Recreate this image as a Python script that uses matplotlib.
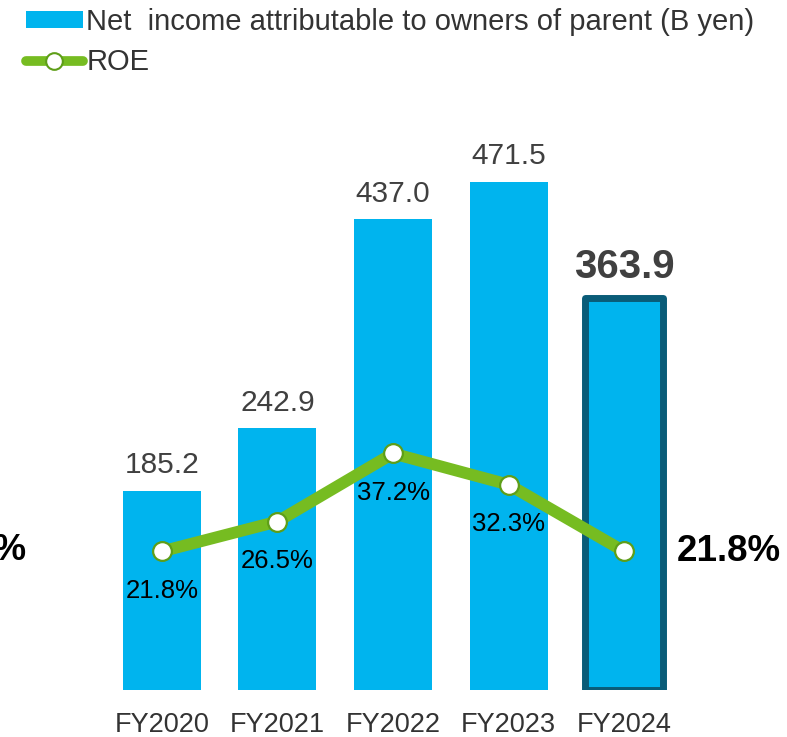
import numpy as np
import matplotlib.pyplot as plt
from matplotlib.patches import Patch
from matplotlib.lines import Line2D

plt.rcParams['font.family'] = ['Liberation Sans', 'DejaVu Sans']

years = ['FY2020', 'FY2021', 'FY2022', 'FY2023', 'FY2024']
net_income = [185.2, 242.9, 437.0, 471.5, 363.9]
roe = [21.8, 26.5, 37.2, 32.3, 21.8]

bar_color = '#00B4EE'
edge_color = '#0A5C78'
line_color = '#76BC21'
text_grey = '#404040'

W, H = 787, 737
fig = plt.figure(figsize=(W / 100, H / 100), dpi=100)
ax = fig.add_axes([104 / W, 47 / H, 578 / W, 590 / H])
ax2 = ax.twinx()

x = np.arange(len(years))
bars = ax.bar(x, net_income, width=0.675, color=bar_color, zorder=1)
# highlight the latest year
bars[-1].set_edgecolor(edge_color)
bars[-1].set_linewidth(5)
bars[-1].set_joinstyle('round')

ax.set_xlim(-0.5, 4.5)
ax.set_ylim(0, 547.8)
ax2.set_ylim(0, 92.8)

for i, v in enumerate(net_income):
    last = i == len(net_income) - 1
    ax.annotate(f'{v:.1f}', (x[i], v), xytext=(0, 8.5 if not last else 8.5),
                textcoords='offset points', ha='center', va='bottom',
                fontsize=29 if last else 21.5, color=text_grey,
                fontweight='bold' if last else 'normal')

ax2.plot(x, roe, color=line_color, lw=8.5, solid_capstyle='round', zorder=3,
         marker='o', markersize=13.5, markerfacecolor='white',
         markeredgecolor='#5E9E18', markeredgewidth=1.6)

for i, v in enumerate(roe):
    if i == len(roe) - 1:
        ax2.annotate(f'{v:.1f}%', (x[i], v), xytext=(38, 0),
                     textcoords='offset points', ha='left', va='center',
                     fontsize=26.5, fontweight='bold', color='black')
    else:
        ax2.annotate(f'{v:.1f}%', (x[i], v), xytext=(0, -28.5),
                     textcoords='offset points', ha='center', va='center',
                     fontsize=18.5, color='black')

# previous-period ROE label running off the left edge
fig.text(27 / W, 1 - 550 / H, f'{roe[0]:.1f}%', ha='right', va='center',
         fontsize=26.5, fontweight='bold', color='black')

ax.set_xticks(x)
ax.set_xticklabels(years, fontsize=19.5, color='#333333')
ax.tick_params(axis='x', length=0, pad=16)
ax.set_yticks([])
ax2.set_yticks([])
for a in (ax, ax2):
    for s in a.spines.values():
        s.set_visible(False)
ax.set_zorder(1)
ax2.set_zorder(2)
ax.patch.set_visible(False)

handles = [
    Patch(facecolor=bar_color, edgecolor='none'),
    Line2D([0], [0], color=line_color, lw=7, solid_capstyle='round',
           marker='o', markersize=12, markerfacecolor='white',
           markeredgecolor='#5E9E18', markeredgewidth=1.5),
]
labels = ['Net  income attributable to owners of parent (B yen)', 'ROE']
fig.legend(handles, labels, loc='upper left', bbox_to_anchor=(26 / W, 1 - 8 / H),
           frameon=False, fontsize=21, handlelength=1.95, handleheight=0.55,
           handletextpad=0.12, labelspacing=0.42, labelcolor='#333333',
           borderpad=0, borderaxespad=0)

fig.savefig('out.png', dpi=100)
